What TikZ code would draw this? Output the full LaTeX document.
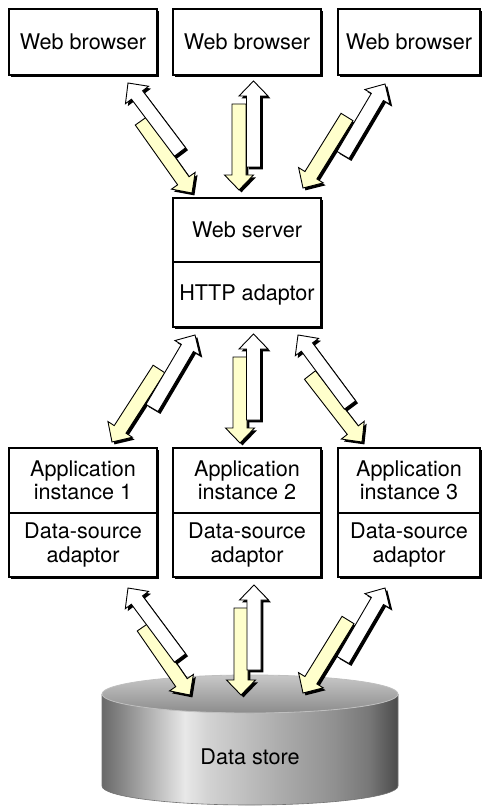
\documentclass[tikz,border=0pt]{standalone}
\usepackage{fontspec}
\setmainfont{TeX Gyre Heros}
\usetikzlibrary{calc,shadows}
\definecolor{pale}{RGB}{255,255,204}
\definecolor{c0}{RGB}{105,105,105}
\definecolor{c1}{RGB}{150,150,150}
\definecolor{c2}{RGB}{232,232,232}
\definecolor{c3}{RGB}{210,210,210}
\definecolor{c4}{RGB}{172,172,172}
\definecolor{c5}{RGB}{145,145,145}
\definecolor{c6}{RGB}{120,120,120}
\definecolor{c7}{RGB}{75,75,75}
\definecolor{cyltop}{RGB}{200,200,200}
\definecolor{cylbot}{RGB}{140,140,140}
\pgfdeclarehorizontalshading{cylbody}{100bp}{color(0bp)=(c0); color(25bp)=(c0); color(30bp)=(c1); color(39bp)=(c2); color(43bp)=(c3); color(55bp)=(c4); color(64bp)=(c5); color(70bp)=(c6); color(75bp)=(c7); color(100bp)=(c7)}
\newcommand\arrowpath[2]{($(#1)!3.5pt!90:(#2)$) -- ($(ah)!3.5pt!90:(#2)$) -- ($(ah)!7.25pt!90:(#2)$) -- (#2) -- ($(ah)!7.25pt!-90:(#2)$) -- ($(ah)!3.5pt!-90:(#2)$) -- ($(#1)!3.5pt!-90:(#2)$) -- cycle}
\newcommand\blockarr[3]{%
  \coordinate (ah) at ($(#3)!7.5pt!(#2)$);
  \begin{scope}[transform canvas={xshift=1.2pt,yshift=-1.2pt}]
    \fill[black] \arrowpath{#2}{#3};
  \end{scope}
  \filldraw[fill=#1, draw=black, line width=0.45pt, line join=miter] \arrowpath{#2}{#3};
}
\begin{document}
\begin{tikzpicture}[x=0.5pt,y=-0.5pt,
  box/.style={draw=black, line width=0.6pt, fill=white, inner sep=0pt, align=center,
    font=\fontsize{10.8}{11.6}\selectfont,
    drop shadow={shadow xshift=1.2pt, shadow yshift=-1.2pt, fill=black, opacity=1}},
  lbl/.style={font=\fontsize{10.8}{11.6}\selectfont, inner sep=0pt}]
\useasboundingbox (0,0) rectangle (483,806);

% browsers
\node[box, minimum width=74pt, minimum height=33pt] (wb1) at (83,42) {Web browser};
\node[box, minimum width=74pt, minimum height=33pt] (wb2) at (247,42) {Web browser};
\node[box, minimum width=71pt, minimum height=33pt] (wb3) at (409,42) {Web browser};

% web server
\node[box, minimum width=74pt, minimum height=32pt] (ws) at (247,230) {Web server};
\node[box, minimum width=74pt, minimum height=32.5pt] (http) at (247,294.5) {HTTP adaptor};

% application instances
\node[box, minimum width=74pt, minimum height=32.5pt] (ap1) at (83,480.5) {Application\\instance 1};
\node[box, minimum width=74pt, minimum height=32pt] (da1) at (83,545) {Data-source\\adaptor};
\node[box, minimum width=74pt, minimum height=32.5pt] (ap2) at (247,480.5) {Application\\instance 2};
\node[box, minimum width=74pt, minimum height=32pt] (da2) at (247,545) {Data-source\\adaptor};
\node[box, minimum width=71pt, minimum height=32.5pt] (ap3) at (409,480.5) {Application\\instance 3};
\node[box, minimum width=71pt, minimum height=32pt] (da3) at (409,545) {Data-source\\adaptor};

% data store cylinder
\shade[shading=cylbody] (102,694) -- (102,786) arc[start angle=180,end angle=360,x radius=74pt,y radius=9.5pt] -- (398,694) arc[start angle=0,end angle=-180,x radius=74pt,y radius=9.5pt] -- cycle;
\draw[black!55, line width=0.3pt] (102,694) -- (102,786) arc[start angle=180,end angle=360,x radius=74pt,y radius=9.5pt] -- (398,694);
\shade[top color=cyltop, bottom color=cylbot] (250,694) ellipse[x radius=74pt, y radius=9.5pt];
\draw[black!25, line width=0.4pt] (250,694) ellipse[x radius=74pt, y radius=9.5pt];
\node[lbl] (ds) at (250,757) {Data store};

% arrow end points
\coordinate (y1a) at (141,121); \coordinate (y1b) at (192,193);
\coordinate (w1a) at (180,152); \coordinate (w1b) at (128,83);
\coordinate (y2a) at (239,104); \coordinate (y2b) at (239,190);
\coordinate (w2a) at (253.5,167); \coordinate (w2b) at (253.5,81);
\coordinate (y3a) at (347,117); \coordinate (y3b) at (303,188);
\coordinate (w3a) at (343,155); \coordinate (w3b) at (385,84);

\coordinate (y4a) at (159,369); \coordinate (y4b) at (112,442);
\coordinate (w4a) at (152,408); \coordinate (w4b) at (195,335);
\coordinate (y5a) at (240,357); \coordinate (y5b) at (240,443);
\coordinate (w5a) at (253.5,420); \coordinate (w5b) at (253.5,334);
\coordinate (y6a) at (310,375); \coordinate (y6b) at (362,442);
\coordinate (w6a) at (350,405); \coordinate (w6b) at (298,335);

\coordinate (y7a) at (143,627); \coordinate (y7b) at (190,695);
\coordinate (w7a) at (180,658); \coordinate (w7b) at (128,588);
\coordinate (y8a) at (241,608); \coordinate (y8b) at (241,695);
\coordinate (w8a) at (254,670); \coordinate (w8b) at (254,585);
\coordinate (y9a) at (348,620); \coordinate (y9b) at (303,693);
\coordinate (w9a) at (343,660); \coordinate (w9b) at (385,588);

\blockarr{pale}{y1a}{y1b}\blockarr{white}{w1a}{w1b}
\blockarr{pale}{y2a}{y2b}\blockarr{white}{w2a}{w2b}
\blockarr{pale}{y3a}{y3b}\blockarr{white}{w3a}{w3b}
\blockarr{pale}{y4a}{y4b}\blockarr{white}{w4a}{w4b}
\blockarr{pale}{y5a}{y5b}\blockarr{white}{w5a}{w5b}
\blockarr{pale}{y6a}{y6b}\blockarr{white}{w6a}{w6b}
\blockarr{pale}{y7a}{y7b}\blockarr{white}{w7a}{w7b}
\blockarr{pale}{y8a}{y8b}\blockarr{white}{w8a}{w8b}
\blockarr{pale}{y9a}{y9b}\blockarr{white}{w9a}{w9b}
\end{tikzpicture}
\end{document}
